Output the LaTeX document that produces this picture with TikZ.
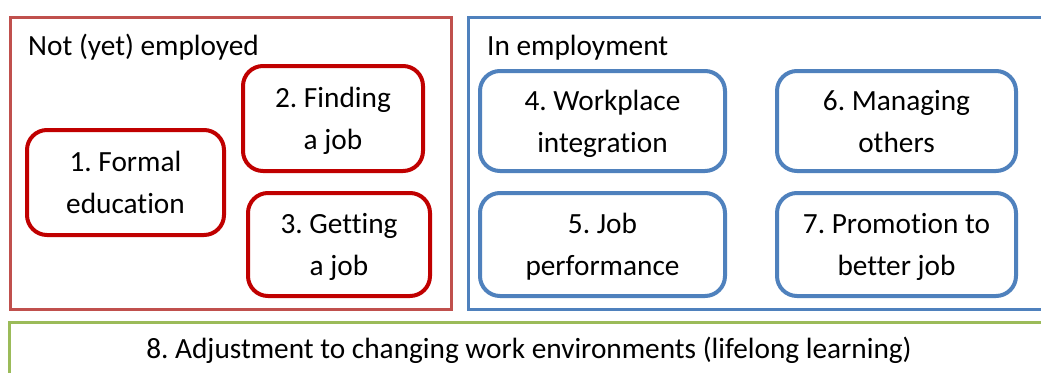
\documentclass[tikz,border=0pt]{standalone}
\usepackage{fontspec}
\setmainfont[Ligatures=NoCommon]{Carlito}
\frenchspacing
\definecolor{outerred}{HTML}{C0504D}
\definecolor{innerred}{HTML}{C00000}
\definecolor{blueline}{HTML}{4F81BD}
\definecolor{greenline}{HTML}{9BBB59}
\begin{document}
\begin{tikzpicture}[x=1pt,y=-1pt,
  every node/.style={font=\fontsize{29.3}{42}\selectfont},
  region/.style={draw, line width=3pt, inner sep=0pt, rectangle},
  redbox/.style={draw=innerred, line width=4pt, rounded corners=20pt, inner sep=0pt, align=center, text depth=0pt},
  bluebox/.style={draw=blueline, line width=4pt, rounded corners=20pt, inner sep=0pt, align=center, text depth=0pt},
  title/.style={anchor=base west, inner sep=0pt}]
\useasboundingbox (0,0) rectangle (1041,372);
\clip (0,0) rectangle (1041,372);
\fill[white] (0,0) rectangle (1041,372);
% regions
\node[region, draw=outerred, minimum width=441pt, minimum height=292pt] (notemp) at (230.5,163) {};
\node[region, draw=blueline, minimum width=584pt, minimum height=292pt] (emp) at (760,163) {};
\node[region, draw=greenline, minimum width=1040pt, minimum height=60pt] (adj) at (529,352) {};
\node[title] (tnot) at (28,55) {Not (yet) employed};
\node[title] (temp) at (487,55) {In employment};
\node[anchor=base, inner sep=0pt] (t8) at (529,358) {8. Adjustment to changing work environments (lifelong learning)};
% red boxes
\node[redbox, minimum width=197pt, minimum height=105pt] (b1) at (125.5,182.5) {1. Formal\\education};
\node[redbox, minimum width=180pt, minimum height=105pt] (b2) at (333,118.5) {2. Finding\\a job};
\node[redbox, minimum width=182pt, minimum height=103pt] (b3) at (339,244.5) {3. Getting\\a job};
% blue boxes
\node[bluebox, minimum width=245pt, minimum height=100pt] (b4) at (602.5,121) {4. Workplace\\integration};
\node[bluebox, minimum width=245pt, minimum height=103pt] (b5) at (602.5,244.5) {5. Job\\performance};
\node[bluebox, minimum width=239pt, minimum height=100pt] (b6) at (896.5,121) {6. Managing\\others};
\node[bluebox, minimum width=239pt, minimum height=103pt] (b7) at (896.5,244.5) {7. Promotion to\\better job};
\end{tikzpicture}
\end{document}
